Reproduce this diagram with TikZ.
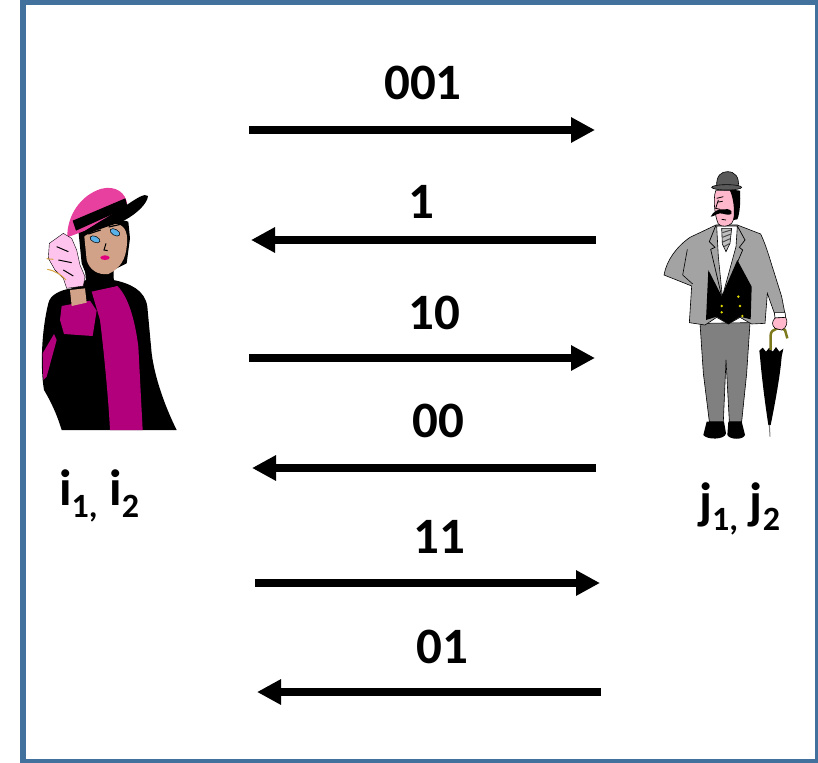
\documentclass[tikz,border=0pt]{standalone}
\usepackage{fontspec}
\setmainfont{Carlito}
\usetikzlibrary{arrows.meta}
\definecolor{framebl}{HTML}{41719C}
\definecolor{hatpink}{HTML}{E8409E}
\definecolor{coatmag}{HTML}{B2007C}
\definecolor{glovepink}{HTML}{FFC4EE}
\definecolor{skintan}{HTML}{D2A288}
\definecolor{eyeblue}{HTML}{5AB0E8}
\definecolor{lipmag}{HTML}{E0007E}
\definecolor{cordgold}{HTML}{D9A441}
\definecolor{jacketgray}{HTML}{A3A3A3}
\definecolor{trousergray}{HTML}{808080}
\definecolor{hatgray}{HTML}{5A5A5A}
\definecolor{facepink}{HTML}{FFB8CC}
\definecolor{olive}{HTML}{7D7A1E}
\definecolor{button}{HTML}{DCD800}
\begin{document}
\begin{tikzpicture}[x=1pt,y=-1pt,
  msg/.style={line width=8pt,-{Triangle[length=24pt,width=24pt]}},
  bits/.style={font=\fontsize{51}{60}\selectfont\bfseries,inner sep=0pt,anchor=base},
  party/.style={font=\fontsize{51}{60}\selectfont\bfseries,inner sep=0pt,anchor=base west},
  outl/.style={draw=black,line width=0.6pt}]
\newcommand{\subidx}[1]{\raisebox{-12pt}{\fontsize{34}{34}\selectfont #1}}
\useasboundingbox (0,0) rectangle (818,762);
\clip (0,0) rectangle (818,762);

% outer frame
\draw[line width=6pt,draw=framebl] (23,2.5) rectangle (818,762);

% ---------- woman on the left ----------
\begin{scope}[shift={(30,180)},scale=0.33333]
  % coat
  \fill[black] (55,370) .. controls (60,345) and (90,330) .. (125,325) -- (168,300) -- (250,300)
    .. controls (300,310) and (345,330) .. (352,380) -- (365,520)
    .. controls (375,600) and (410,690) .. (440,750) -- (95,750)
    .. controls (80,700) and (60,660) .. (42,630)
    .. controls (30,560) and (35,450) .. (55,370) -- cycle;
  % front panel
  \fill[coatmag] (185,335) -- (262,318) .. controls (295,350) and (315,420) .. (325,500)
    -- (338,750) -- (240,750) .. controls (235,650) and (220,500) .. (210,420) -- cycle;
  \draw[black,line width=1pt] (288,338) .. controls (305,365) and (315,395) .. (320,425);
  % side stripe
  \fill[coatmag] (38,520) -- (72,462) -- (80,480) -- (50,590) -- (40,600) -- cycle;
  % cuff
  \fill[coatmag] (95,378) -- (180,362) -- (200,392) -- (188,468) -- (102,462) -- (90,420) -- cycle;
  % wrist
  \fill[skintan] (120,330) -- (165,325) -- (170,368) -- (125,378) -- cycle;
  % neck
  \fill[black] (165,265) -- (250,255) -- (252,320) -- (170,330) -- cycle;
  % hair
  \fill[black] (145,150) .. controls (155,120) and (250,110) .. (295,125) -- (300,175)
    -- (290,250) -- (250,270) -- (175,300) -- (155,250) -- cycle;
  % face
  \fill[skintan] (163,170) .. controls (172,145) and (215,132) .. (262,132)
    .. controls (288,138) and (295,165) .. (290,200)
    .. controls (287,235) and (272,265) .. (235,282)
    .. controls (205,286) and (178,270) .. (170,240) -- cycle;
  \filldraw[fill=eyeblue,draw=black,line width=0.5pt] (195,178) ellipse [x radius=16,y radius=9,rotate=-25];
  \filldraw[fill=eyeblue,draw=black,line width=0.5pt] (255,157) ellipse [x radius=16,y radius=9,rotate=-30];
  \draw[black,line width=1.2pt] (175,162) -- (212,150) (236,141) -- (276,132);
  \draw[black,line width=1pt] (228,190) -- (222,210) -- (233,212);
  \fill[lipmag] (225,233) ellipse [x radius=14,y radius=7];
  % hat
  \fill[hatpink] (112,172) .. controls (110,110) and (150,45) .. (215,26)
    .. controls (258,16) and (288,38) .. (292,75) -- (165,152) -- cycle;
  \fill[black] (128,122) -- (286,55) -- (293,82) -- (138,152) -- cycle;
  \fill[black] (150,162) -- (290,75) .. controls (320,55) and (345,38) .. (354,48)
    .. controls (352,70) and (322,100) .. (285,120)
    .. controls (240,140) and (190,150) .. (160,170) -- cycle;
  % gloved hand
  \filldraw[fill=glovepink,draw=black,line width=0.4pt] (58,190) -- (100,160) -- (125,175) -- (140,210)
    -- (150,255) -- (165,290) -- (160,318) -- (110,325) -- (100,295) -- (75,270) -- (55,235) -- cycle;
  \draw[black,line width=1pt] (80,200) -- (115,215) (85,240) -- (125,248) (100,270) -- (130,288);
  \draw[cordgold,line width=1pt] (50,236) -- (70,238) (52,268) .. controls (75,272) and (95,285) .. (108,300);
\end{scope}

% ---------- man on the right ----------
\begin{scope}[shift={(650,160)},scale=0.33333]
  % trousers
  \filldraw[fill=trousergray,outl] (150,490) -- (300,488) -- (290,640) -- (275,785) -- (238,785)
    -- (228,600) -- (220,785) -- (178,785) -- (160,640) -- cycle;
  % shoes
  \fill[black] (170,785) -- (222,785) -- (228,820) .. controls (225,840) and (170,840) .. (160,825) -- cycle;
  \fill[black] (235,785) -- (275,785) -- (285,825) .. controls (280,840) and (240,840) .. (232,825) -- cycle;
  % umbrella
  \fill[black] (328,572) -- (338,563) -- (348,575) -- (358,563) -- (368,575) -- (378,561) -- (388,575)
    -- (400,566) -- (395,590) .. controls (390,650) and (375,730) .. (362,795) -- (355,795)
    .. controls (345,730) and (335,650) .. (330,590) -- cycle;
  \draw[gray,line width=1pt] (358,795) -- (360,830);
  \draw[olive,line width=2.5pt] (362,570) -- (362,525) .. controls (362,505) and (395,500) .. (405,510) -- (412,535);
  % jacket
  \filldraw[fill=jacketgray,outl] (120,232) -- (198,195) -- (262,195) -- (332,222)
    .. controls (350,260) and (360,300) .. (370,330) -- (395,410) -- (405,462) -- (375,465)
    -- (352,400) -- (345,490) -- (305,492) -- (270,472) -- (235,492) -- (200,472) -- (165,495)
    -- (118,488) -- (125,378) -- (42,345) .. controls (50,300) and (80,260) .. (120,232) -- cycle;
  \draw[black,line width=0.6pt] (112,268) -- (98,345) -- (128,372);
  % waistcoat
  \fill[black] (175,330) -- (215,408) -- (262,300) -- (305,380) -- (302,478) -- (270,470)
    -- (235,492) -- (200,470) -- (168,480) -- cycle;
  % shirt and tie
  \filldraw[fill=white,outl] (200,198) -- (262,198) -- (258,260) -- (217,410) -- (205,290) -- cycle;
  \filldraw[fill=lightgray,outl] (215,205) -- (245,205) -- (240,250) -- (228,275) -- (217,252) -- cycle;
  \draw[gray!60!black,line width=1pt] (217,218) -- (243,210) (217,232) -- (243,222) (218,246) -- (241,236) (222,260) -- (238,251);
  % lapels
  \draw[black,line width=0.7pt] (198,195) -- (178,245) -- (195,262) -- (182,268) -- (214,405);
  \draw[black,line width=0.7pt] (262,198) -- (285,240) -- (268,262) -- (278,270) -- (220,405);
  % buttons
  \foreach \p in {(215,438),(215,457),(265,410),(270,438),(277,468)}
    \fill[button] \p circle [radius=4];
  % head
  \filldraw[fill=facepink,outl] (197,92) -- (255,92) .. controls (260,130) and (258,170) .. (245,190)
    .. controls (235,200) and (215,202) .. (205,192) .. controls (195,170) and (188,120) .. (197,92) -- cycle;
  \fill[black] (238,88) -- (270,92) .. controls (272,120) and (270,160) .. (262,178) -- (250,180)
    .. controls (255,150) and (250,110) .. (238,88) -- cycle;
  \fill[black] (182,170) .. controls (188,156) and (205,145) .. (222,148)
    .. controls (238,145) and (248,152) .. (244,162) .. controls (235,168) and (220,160) .. (210,160)
    .. controls (198,162) and (190,170) .. (182,170) -- cycle;
  \draw[black,line width=0.8pt] (200,115) -- (220,110) (205,126) -- (218,124) (205,120) -- (197,145) -- (210,148) (215,178) -- (228,180);
  % bowler hat
  \filldraw[fill=hatgray,outl] (200,80) .. controls (198,45) and (215,35) .. (232,35)
    .. controls (255,35) and (268,50) .. (265,80) -- cycle;
  \filldraw[fill=hatgray,outl] (230,82) ellipse [x radius=45,y radius=8];
  % cuff and hand
  \filldraw[fill=white,outl] (373,458) -- (405,458) -- (407,472) -- (375,474) -- cycle;
  \filldraw[fill=facepink,outl] (375,474) -- (407,472) .. controls (415,485) and (410,505) .. (395,510)
    -- (375,505) .. controls (365,495) and (365,485) .. (375,474) -- cycle;
\end{scope}

% ---------- exchanged bits ----------
\coordinate (a1s) at (249,130); \coordinate (a1e) at (595,130);
\coordinate (a2s) at (596,240); \coordinate (a2e) at (251,240);
\coordinate (a3s) at (249,358); \coordinate (a3e) at (595,358);
\coordinate (a4s) at (596,468); \coordinate (a4e) at (252,468);
\coordinate (a5s) at (255,583); \coordinate (a5e) at (600,583);
\coordinate (a6s) at (601,692); \coordinate (a6e) at (257,692);
\draw[msg] (a1s) -- (a1e);
\draw[msg] (a2s) -- (a2e);
\draw[msg] (a3s) -- (a3e);
\draw[msg] (a4s) -- (a4e);
\draw[msg] (a5s) -- (a5e);
\draw[msg] (a6s) -- (a6e);

\node[bits] (b1) at (423,100) {001};
\node[bits] (b2) at (421,218) {1};
\node[bits] (b3) at (434,329) {10};
\node[bits] (b4) at (438,437) {00};
\node[bits] (b5) at (439,553) {11};
\node[bits] (b6) at (442,663) {01};

% party labels
\node[party] (ilab) at (59,505) {i\subidx{1,} i\subidx{2}};
\node[party] (jlab) at (699,518) {j\subidx{1,} j\subidx{2}};
\end{tikzpicture}
\end{document}
